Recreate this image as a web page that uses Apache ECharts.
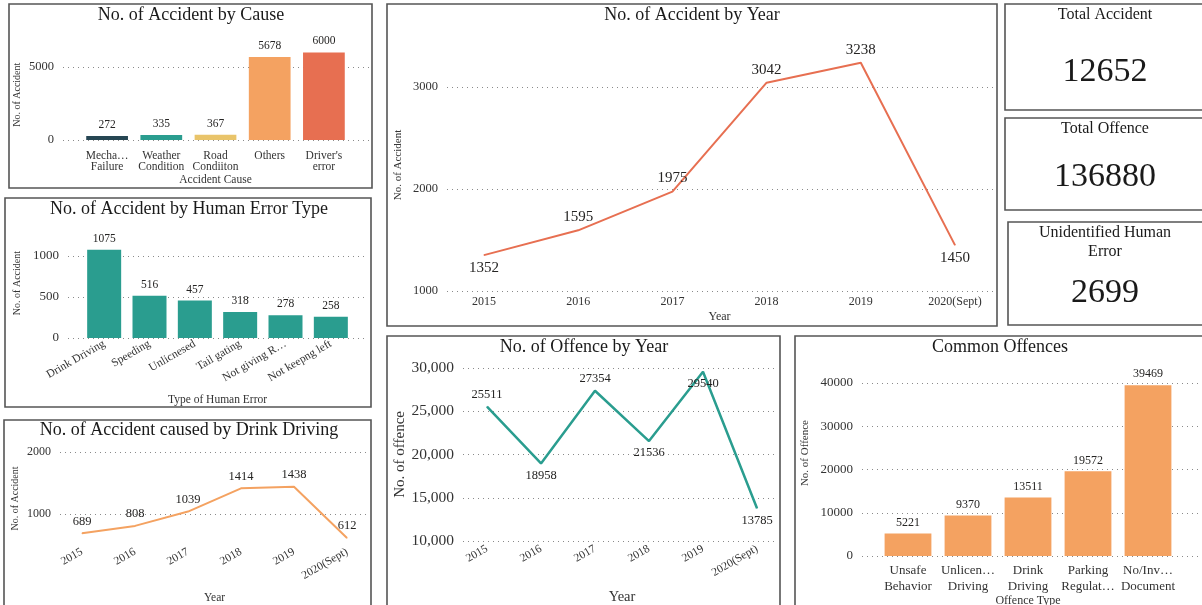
<!DOCTYPE html>
<html>
<head>
<meta charset="utf-8">
<script src="https://cdn.jsdelivr.net/npm/echarts@6/dist/echarts.min.js"></script>
<style>
html, body { margin: 0; padding: 0; background: #fff; }
#main { width: 1202px; height: 605px; }
</style>
</head>
<body>
<div id="main"></div>
<script>
// accidents by cause
var causeNames = ['Mecha…\nFailure', 'Weather\nCondition', 'Road\nCondiiton', 'Others', "Driver's\nerror"];
var causeValues = [272, 335, 367, 5678, 6000];
var causeColors = ['#264653', '#2a9d8f', '#e9c46a', '#f4a261', '#e76f51'];

// accidents by human error type
var errorTypes = ['Drink Driving', 'Speeding', 'Unlicnesed', 'Tail gating', 'Not giving R…', 'Not keepng left'];
var errorValues = [1075, 516, 457, 318, 278, 258];

// yearly series
var years = ['2015', '2016', '2017', '2018', '2019', '2020(Sept)'];
var drinkValues = [689, 808, 1039, 1414, 1438, 612];
var accidentValues = [1352, 1595, 1975, 3042, 3238, 1450];
var offenceValues = [25511, 18958, 27354, 21536, 29540, 13785];

// common offences
var offenceTypes = ['Unsafe\nBehavior', 'Unlicen…\nDriving', 'Drink\nDriving', 'Parking\nRegulat…', 'No/Inv…\nDocument'];
var offenceTypeValues = [5221, 9370, 13511, 19572, 39469];

// cards
var totalAccident = 12652;
var totalOffence = 136880;
var unidentifiedError = 2699;

var accidentLabelPos = ['bottom', 'top', 'top', 'top', 'top', 'bottom'];
var offenceLabelPos = ['top', 'bottom', 'top', 'bottom', 'bottom', 'bottom'];

var FONT = 'Liberation Serif';
var grids = [], xAxes = [], yAxes = [], series = [];

function font(size) {
    return { fontFamily: FONT, fontSize: size, color: '#333' };
}

var plain = function (v) { return String(v); };
var commas = function (v) { return echarts.format.addCommas(v); };

// grid only used for the y labels and the dotted lines
function frame(l, r, top, bottom, min, max, step, size, fmt) {
    var gi = grids.length;
    grids.push({ left: l, width: r - l, top: top, height: bottom - top, outerBoundsMode: 'none' });
    xAxes.push({ gridIndex: gi, type: 'value', show: false, min: 0, max: 1 });
    yAxes.push({
        gridIndex: gi, type: 'value', min: min, max: max, interval: step,
        axisLine: { show: false }, axisTick: { show: false },
        axisLabel: Object.assign(font(size), { margin: 9, formatter: fmt || plain }),
        splitLine: { show: true, lineStyle: { type: [1, 4], color: '#8a8a8a', width: 1 } }
    });
}

// grid that holds the marks
function plot(o) {
    var gi = grids.length;
    grids.push({ left: o.l, width: o.r - o.l, top: o.top, height: o.bottom - o.top, outerBoundsMode: 'none' });
    xAxes.push({
        gridIndex: gi, type: 'category', data: o.cats, boundaryGap: o.gap,
        axisLine: { show: false }, axisTick: { show: false },
        axisLabel: Object.assign(font(o.labelSize), { margin: o.labelMargin, rotate: o.rotate || 0, lineHeight: o.lineHeight, interval: 0 }),
        name: o.xName, nameLocation: 'middle', nameGap: o.xNameGap,
        nameTextStyle: font(o.xNameSize)
    });
    yAxes.push({
        gridIndex: gi, type: 'value', min: o.min, max: o.max,
        axisLine: { show: false }, axisTick: { show: false },
        axisLabel: { show: false }, splitLine: { show: false },
        name: o.yName, nameLocation: 'middle', nameRotate: 90, nameGap: o.yNameGap,
        nameTextStyle: font(o.yNameSize)
    });
    return gi;
}

function lineSeries(gi, data, color, width, size, pos) {
    series.push({
        type: 'line', xAxisIndex: gi, yAxisIndex: gi,
        data: data.map(function (v, i) {
            return pos ? { value: v, label: { position: pos[i] } } : v;
        }),
        symbol: 'circle', symbolSize: 1, showSymbol: true,
        itemStyle: { color: color },
        lineStyle: { color: color, width: width },
        label: Object.assign(font(size), { show: true, position: 'top', color: '#252423' }),
        silent: true
    });
}

function barSeries(gi, data, colors, width, size) {
    series.push({
        type: 'bar', xAxisIndex: gi, yAxisIndex: gi,
        data: data.map(function (v, i) {
            return { value: v, itemStyle: { color: colors[i % colors.length] } };
        }),
        barWidth: width,
        label: Object.assign(font(size), { show: true, position: 'top', color: '#252423' }),
        silent: true
    });
}

// No. of Accident by Cause
frame(63, 370, 67, 140, 0, 5000, 5000, 12.5);
var g1 = plot({ l: 80, r: 351, top: 140 - 6200 * 73 / 5000, bottom: 140, min: 0, max: 6200, cats: causeNames, gap: true,
    labelSize: 11.5, labelMargin: 10, lineHeight: 11.5, xName: 'Accident Cause', xNameGap: 34, xNameSize: 11.5,
    yName: 'No. of Accident', yNameGap: 58, yNameSize: 10 });
barSeries(g1, causeValues, causeColors, '77%', 11.5);

// No. of Accident by Human Error Type
frame(68, 365, 256, 338, 0, 1000, 500, 13);
var g2 = plot({ l: 81.5, r: 353.5, top: 338 - 1340 * 0.082, bottom: 338, min: 0, max: 1340, cats: errorTypes, gap: true,
    labelSize: 11.5, labelMargin: 5, rotate: 30, xName: 'Type of Human Error', xNameGap: 56, xNameSize: 11.5,
    yName: 'No. of Accident', yNameGap: 59, yNameSize: 10 });
barSeries(g2, errorValues, ['#2a9d8f'], '75%', 11.5);

// No. of Accident caused by Drink Driving
frame(60, 370, 452, 514, 1000, 2000, 1000, 12);
var g3 = plot({ l: 82, r: 347, top: 452, bottom: 545, min: 500, max: 2000, cats: years, gap: false,
    labelSize: 11.5, labelMargin: 6, rotate: 30, xName: 'Year', xNameGap: 47, xNameSize: 11.5,
    yName: 'No. of Accident', yNameGap: 62, yNameSize: 10 });
lineSeries(g3, drinkValues, '#f4a261', 2, 12.5);

// No. of Accident by Year
frame(447, 995, 87, 291, 1000, 3000, 1000, 12.5);
var g4 = plot({ l: 484, r: 955, top: 291 - 2470 * 0.102, bottom: 291, min: 1000, max: 3470, cats: years, gap: false,
    labelSize: 12, labelMargin: 5, xName: 'Year', xNameGap: 20, xNameSize: 12,
    yName: 'No. of Accident', yNameGap: 80, yNameSize: 11 });
lineSeries(g4, accidentValues, '#e76f51', 2, 15, accidentLabelPos);

// No. of Offence by Year
frame(463, 778, 368, 541, 10000, 30000, 5000, 15.5, commas);
var g5 = plot({ l: 487, r: 757, top: 541 - 20000 * 0.00866, bottom: 541, min: 10000, max: 30000, cats: years, gap: false,
    labelSize: 11.5, labelMargin: 7, rotate: 30, xName: 'Year', xNameGap: 49, xNameSize: 14.5,
    yName: 'No. of offence', yNameGap: 79, yNameSize: 15 });
lineSeries(g5, offenceValues, '#2a9d8f', 2.5, 12.5, offenceLabelPos);

// Common Offences
frame(862, 1200, 383, 556, 0, 40000, 10000, 13);
var g6 = plot({ l: 878, r: 1178, top: 556 - 47600 * 0.004325, bottom: 556, min: 0, max: 47600, cats: offenceTypes, gap: true,
    labelSize: 13, labelMargin: 7, lineHeight: 15.5, xName: 'Offence Type', xNameGap: 36, xNameSize: 12,
    yName: 'No. of Offence', yNameGap: 67, yNameSize: 11 });
barSeries(g6, offenceTypeValues, ['#f4a261'], '78%', 12);

// panel boxes and texts
var boxes = [
    [9, 4, 363, 184], [5, 198, 366, 209], [4, 420, 367, 200],
    [387, 4, 610, 322], [387, 336, 393, 280], [795, 336, 410, 280],
    [1005, 4, 200, 106], [1005, 118, 200, 92], [1008, 222, 197, 103]
];
var texts = [
    ['No. of Accident by Cause', 191, 15, 18],
    ['No. of Accident by Human Error Type', 189, 209, 18],
    ['No. of Accident caused by Drink Driving', 189, 430, 18],
    ['No. of Accident by Year', 692, 15, 18],
    ['No. of Offence by Year', 584, 347, 18],
    ['Common Offences', 1000, 347, 18],
    ['Total Accident', 1105, 15, 16],
    [String(totalAccident), 1105, 72, 34],
    ['Total Offence', 1105, 129, 16],
    [String(totalOffence), 1105, 177, 34],
    ['Unidentified Human', 1105, 233, 16],
    ['Error', 1105, 252, 16],
    [String(unidentifiedError), 1105, 293, 34]
];
var graphic = boxes.map(function (b) {
    return { type: 'rect', silent: true, shape: { x: b[0], y: b[1], width: b[2], height: b[3] },
        style: { fill: 'none', stroke: '#555', lineWidth: 1.6 } };
}).concat(texts.map(function (t) {
    return { type: 'text', silent: true, style: { text: t[0], x: t[1], y: t[2],
        font: t[3] + "px '" + FONT + "'", fill: '#1a1a1a',
        textAlign: 'center', textVerticalAlign: 'middle', align: 'center', verticalAlign: 'middle' } };
}));

var chart = echarts.init(document.getElementById('main'));
chart.setOption({
    animation: false,
    backgroundColor: '#fff',
    grid: grids,
    xAxis: xAxes,
    yAxis: yAxes,
    series: series,
    graphic: graphic
});
</script>
</body>
</html>
